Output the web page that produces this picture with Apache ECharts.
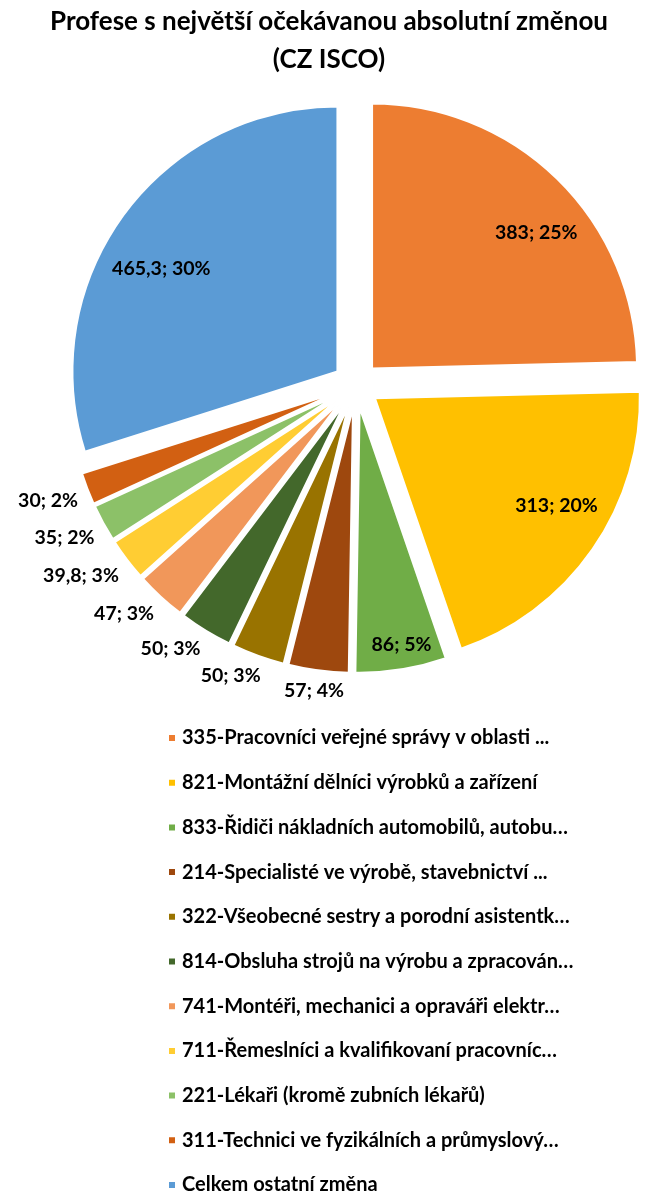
<!DOCTYPE html>
<html>
<head>
<meta charset="utf-8">
<script src="https://cdn.jsdelivr.net/npm/echarts@6/dist/echarts.min.js"></script>
<style>
  html, body { margin: 0; padding: 0; background: #fff; }
  #chart { width: 658px; height: 1204px; }
</style>
</head>
<body>
<div id="chart"></div>
<script>
// ---- data ----
const titleText = 'Profese s největší očekávanou absolutní změnou\n(CZ ISCO)';
const categories = [
  '335-Pracovníci veřejné správy v oblasti ...',
  '821-Montážní dělníci výrobků a zařízení',
  '833-Řidiči nákladních automobilů, autobu…',
  '214-Specialisté ve výrobě, stavebnictví ...',
  '322-Všeobecné sestry a porodní asistentk…',
  '814-Obsluha strojů na výrobu a zpracován…',
  '741-Montéři, mechanici a opraváři elektr…',
  '711-Řemeslníci a kvalifikovaní pracovníc…',
  '221-Lékaři (kromě zubních lékařů)',
  '311-Technici ve fyzikálních a průmyslový…',
  'Celkem ostatní změna'
];
const values = [383, 313, 86, 57, 50, 50, 47, 39.8, 35, 30, 465.3];
const colors = ['#ED7D31', '#FFC000', '#70AD47', '#9E480E', '#997300', '#43682B',
                '#F1975A', '#FFCD33', '#8CC168', '#D26012', '#5B9BD5'];

// ---- layout constants ----
const CX = 356, CY = 385, R = 265, EXPLODE = 23;
const INSIDE_GAP = 13, OUTSIDE_GAP = 10;
const FONT = 'Lato';
const total = values.reduce((a, b) => a + b, 0);

function fmtNum(v) { return String(v).replace('.', ','); }
function ramp(t) { return Math.max(0, Math.min(1, (t - 0.1) / 0.3)); }

const chart = echarts.init(document.getElementById('chart'), null, { renderer: 'canvas' });

chart.setOption({
  backgroundColor: '#fff',
  animation: false,
  title: {
    text: titleText,
    left: 'center',
    top: -2,
    textStyle: { fontFamily: FONT, fontWeight: 'bold', fontSize: 26, lineHeight: 38, color: '#000' }
  },
  legend: {
    orient: 'vertical',
    left: 167,
    top: 728,
    padding: 0,
    itemWidth: 8,
    itemHeight: 8,
    itemGap: 24.7,
    icon: 'rect',
    selectedMode: false,
    data: categories,
    textStyle: { fontFamily: FONT, fontWeight: 'bold', fontSize: 20, lineHeight: 20, color: '#000', padding: [0, 0, 0, 1] }
  },
  series: [{
    // exploded slices
    type: 'pie',
    center: [CX, CY],
    radius: [0, R],
    startAngle: 90,
    clockwise: true,
    selectedMode: 'multiple',
    selectedOffset: EXPLODE,
    avoidLabelOverlap: false,
    emphasis: { disabled: true },
    itemStyle: { borderColor: '#fff', borderWidth: 2 },
    label: { show: false },
    labelLine: { show: false },
    data: categories.map((name, i) => ({
      name: name,
      value: values[i],
      selected: true,
      itemStyle: { color: colors[i] }
    }))
  }, {
    // data labels, placed Excel-style (inside end for big slices, outside end for small ones)
    type: 'pie',
    center: [CX, CY],
    radius: [0, R],
    startAngle: 90,
    clockwise: true,
    percentPrecision: 0,
    silent: true,
    avoidLabelOverlap: false,
    emphasis: { disabled: true },
    itemStyle: { color: 'rgba(0,0,0,0)' },
    label: {
      show: true,
      position: 'inside',
      fontFamily: FONT,
      fontWeight: 'bold',
      fontSize: 19.5,
      lineHeight: 20,
      color: '#000',
      formatter: p => fmtNum(p.value) + '; ' + p.percent + '%'
    },
    labelLine: { show: false },
    labelLayout: function (p) {
      const i = p.dataIndex;
      let before = 0;
      for (let k = 0; k < i; k++) before += values[k];
      const mid = (before + values[i] / 2) / total * Math.PI * 2;
      const dx = Math.sin(mid), dy = -Math.cos(mid);
      const w = p.labelRect.width, h = p.labelRect.height;
      const sx = Math.sign(dx) * ramp(Math.abs(dx));
      const sy = Math.sign(dy) * ramp(Math.abs(dy));
      const inside = values[i] / total >= 0.05;
      let s;
      if (inside) {
        // inner corner on the bisector, outer corner on a circle just inside the rim
        const L = R - INSIDE_GAP;
        const vx = sx * w, vy = sy * h;
        const dv = dx * vx + dy * vy, vv = vx * vx + vy * vy;
        s = -dv + Math.sqrt(dv * dv - vv + L * L);
      } else {
        // inner corner on the bisector just outside the rim
        s = R + OUTSIDE_GAP;
      }
      return {
        x: CX + (EXPLODE + s) * dx + sx * w / 2,
        y: CY + (EXPLODE + s) * dy + sy * h / 2,
        align: 'center',
        verticalAlign: 'middle'
      };
    },
    data: categories.map((name, i) => ({ name: name, value: values[i] }))
  }]
});
</script>
</body>
</html>
